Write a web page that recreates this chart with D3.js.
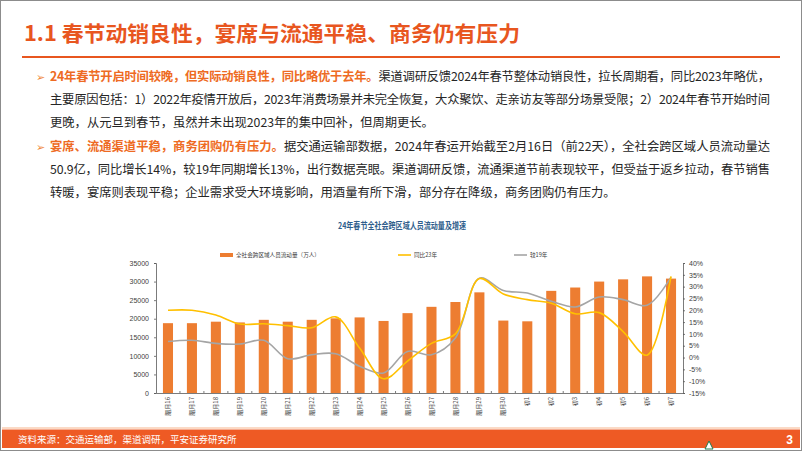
<!DOCTYPE html>
<html><head><meta charset="utf-8">
<script src="https://cdn.jsdelivr.net/npm/d3@7/dist/d3.min.js"></script>
<style>
html,body{margin:0;padding:0;background:#fff;}
svg{display:block;}
</style></head>
<body>
<svg id="c" width="802" height="451"></svg>
<script>
const categories = ["腊月16","腊月17","腊月18","腊月19","腊月20","腊月21","腊月22","腊月23","腊月24","腊月25","腊月26","腊月27","腊月28","腊月29","腊月30","初1","初2","初3","初4","初5","初6","初7"];
const flowValues = [18800,18800,19200,19000,19700,19200,19700,20100,20350,19400,21500,23200,24500,27100,19500,19300,27500,28400,30000,30600,31400,30800];
const yoy23 = [20,20,18,14.2,14.3,13.5,12.6,17.2,4,-9,-1.5,6,10,33.4,26.9,24.5,23,18.5,19,11,1,34.3];
const vs19 = [6.8,7.3,6,5.7,7.3,-0.5,1.2,1.6,-3.7,-6.5,2.6,1.2,8.3,33.6,28.4,27.3,23.8,21.4,25.6,24.5,22.1,34];
const leftTicks = [0,5000,10000,15000,20000,25000,30000,35000];
const rightTicks = [-15,-10,-5,0,5,10,15,20,25,30,35,40];
const seriesNames = ["全社会跨区域人员流动量（万人）","同比23年","较19年"];
const pageTitle = "1.1 春节动销良性，宴席与流通平稳、商务仍有压力";
const chartTitle = "24年春节全社会跨区域人员流动量及增速";
const sourceText = "资料来源：交通运输部，渠道调研，平安证券研究所";
const para1 = [
  [["24年春节开启时间较晚，但实际动销良性，同比略优于去年。",1],["渠道调研反馈2024年春节整体动销良性，拉长周期看，同比2023年略优，",0]],
  [["主要原因包括：1）2022年疫情开放后，2023年消费场景并未完全恢复，大众聚饮、走亲访友等部分场景受限；2）2024年春节开始时间",0]],
  [["更晚，从元旦到春节，虽然并未出现2023年的集中回补，但周期更长。",0]]
];
const para2 = [
  [["宴席、流通渠道平稳，商务团购仍有压力。",1],["据交通运输部数据，2024年春运开始截至2月16日（前22天），全社会跨区域人员流动量达",0]],
  [["50.9亿，同比增长14%，较19年同期增长13%，出行数据亮眼。渠道调研反馈，流通渠道节前表现较平，但受益于返乡拉动，春节销售",0]],
  [["转暖，宴席则表现平稳；企业需求受大环境影响，用酒量有所下滑，部分存在降级，商务团购仍有压力。",0]]
];

const svg = d3.select("#c");
const CJK = "'Noto Sans CJK SC','Liberation Sans',sans-serif";
const ORANGE = "#E8561F";

// slide frame
svg.append("rect").attr("x",0.5).attr("y",0.5).attr("width",801).attr("height",450)
  .attr("fill","#fff").attr("stroke","#8c8c8c");

// page title
svg.append("text").attr("x",24).attr("y",41).attr("font-family",CJK).attr("font-size",21)
  .attr("font-weight","bold").attr("fill",ORANGE).attr("textLength",496).attr("lengthAdjust","spacingAndGlyphs")
  .text(pageTitle);
svg.append("line").attr("x1",22).attr("x2",780).attr("y1",57).attr("y2",57).attr("stroke",ORANGE).attr("stroke-width",2);

// paragraphs
function para(lines, y0){
  svg.append("text").attr("x",36).attr("y",y0+4).attr("font-family","'DejaVu Sans'").attr("font-size",11)
    .attr("fill","#F08A3C").text("➢");
  lines.forEach((segs,i)=>{
    const t = svg.append("text").attr("x",50).attr("y",y0+4+i*23).attr("font-family",CJK)
      .attr("font-size",12.3).attr("fill","#262626");
    if(i<lines.length-1) t.attr("textLength",720).attr("lengthAdjust","spacing");
    segs.forEach(s=>{
      t.append("tspan").attr("fill", s[1]?"#EE6B23":"#262626").attr("font-weight", s[1]?"bold":"normal").text(s[0]);
    });
  });
}
para(para1,77);
para(para2,147);

// chart
const m = {l:156, r:683, t:263, b:393};
const x = d3.scaleBand().domain(categories).range([m.l,m.r]).paddingInner(0.58).paddingOuter(0.29);
const yL = d3.scaleLinear().domain([0,35000]).range([m.b,m.t]);
const yR = d3.scaleLinear().domain([-15,40]).range([m.b,m.t]);

svg.append("text").attr("x",402).attr("y",229).attr("text-anchor","middle").attr("font-family",CJK)
  .attr("font-size",9).attr("font-weight","bold").attr("fill","#2F5E8C").attr("textLength",128)
  .attr("lengthAdjust","spacingAndGlyphs").text(chartTitle);

// bars
svg.append("g").selectAll("rect").data(flowValues).join("rect")
  .attr("x",(d,i)=>x(categories[i])).attr("width",x.bandwidth())
  .attr("y",d=>yL(d)).attr("height",d=>yL(0)-yL(d)).attr("fill","#ED7D31");

const line = (arr)=>d3.line().x((d,i)=>x(categories[i])+x.bandwidth()/2).y(d=>yR(d)).curve(d3.curveCatmullRom.alpha(0.5))(arr);
svg.append("path").attr("d",line(vs19)).attr("fill","none").attr("stroke","#A5A5A5").attr("stroke-width",1.6);
svg.append("path").attr("d",line(yoy23)).attr("fill","none").attr("stroke","#FFC000").attr("stroke-width",1.6);

// axes
const axStyle = g=>{
  g.selectAll("path,line").attr("stroke","#595959").attr("stroke-width",0.8);
  g.selectAll("text").attr("font-family","'Liberation Sans',Arial,sans-serif").attr("font-size",7).attr("fill","#404040");
};
svg.append("g").attr("transform",`translate(${m.l},0)`)
  .call(d3.axisLeft(yL).tickValues(leftTicks).tickFormat(d=>d).tickSizeInner(2).tickSizeOuter(2).tickPadding(5))
  .call(axStyle);
svg.append("g").attr("transform",`translate(${m.r},0)`)
  .call(d3.axisRight(yR).tickValues(rightTicks).tickFormat(d=>d+"%").tickSizeInner(2).tickSizeOuter(2).tickPadding(4))
  .call(axStyle);
const xa = svg.append("g").attr("transform",`translate(0,${m.b})`)
  .call(d3.axisBottom(x).tickSize(0).tickPadding(0)).call(axStyle);
xa.selectAll("text").attr("transform","rotate(-90)").attr("text-anchor","end").attr("dy","0.35em")
  .attr("x",-4).attr("y",0).attr("font-family",CJK).attr("font-size",6);
// category separator ticks
xa.append("g").selectAll("line").data(categories.slice(1)).join("line")
  .attr("x1",d=>x(d)-x.step()*x.paddingInner()/2).attr("x2",d=>x(d)-x.step()*x.paddingInner()/2)
  .attr("y1",0).attr("y2",-2).attr("stroke","#595959").attr("stroke-width",0.8);

// legend
const lg = svg.append("g").attr("font-family",CJK).attr("font-size",5.6).attr("fill","#404040");
lg.append("rect").attr("x",220).attr("y",253).attr("width",13).attr("height",4).attr("fill","#ED7D31");
lg.append("text").attr("x",236).attr("y",257).text(seriesNames[0]);
lg.append("line").attr("x1",398).attr("x2",411).attr("y1",255).attr("y2",255).attr("stroke","#FFC000").attr("stroke-width",1.6);
lg.append("text").attr("x",414).attr("y",257).text(seriesNames[1]);
lg.append("line").attr("x1",514).attr("x2",527).attr("y1",255).attr("y2",255).attr("stroke","#A5A5A5").attr("stroke-width",1.6);
lg.append("text").attr("x",530).attr("y",257).text(seriesNames[2]);

// footer
svg.append("line").attr("x1",2).attr("x2",800).attr("y1",428).attr("y2",428).attr("stroke","#F7B48C").attr("stroke-width",1);
svg.append("rect").attr("x",2).attr("y",429.5).attr("width",798).attr("height",18.5).attr("fill","#EE5A24");
svg.append("text").attr("x",18).attr("y",443).attr("font-family",CJK).attr("font-size",9.5).attr("fill","#fff").text(sourceText);
svg.append("text").attr("x",793).attr("y",444).attr("text-anchor","end").attr("font-family","'Liberation Sans',sans-serif")
  .attr("font-size",12).attr("font-weight","bold").attr("fill","#fff").text("3");
svg.append("path").attr("d","M705,449 L709,441 L713,449 Z").attr("fill","#fff").attr("stroke","#1f7a4d").attr("stroke-width",1);
</script>
</body></html>
